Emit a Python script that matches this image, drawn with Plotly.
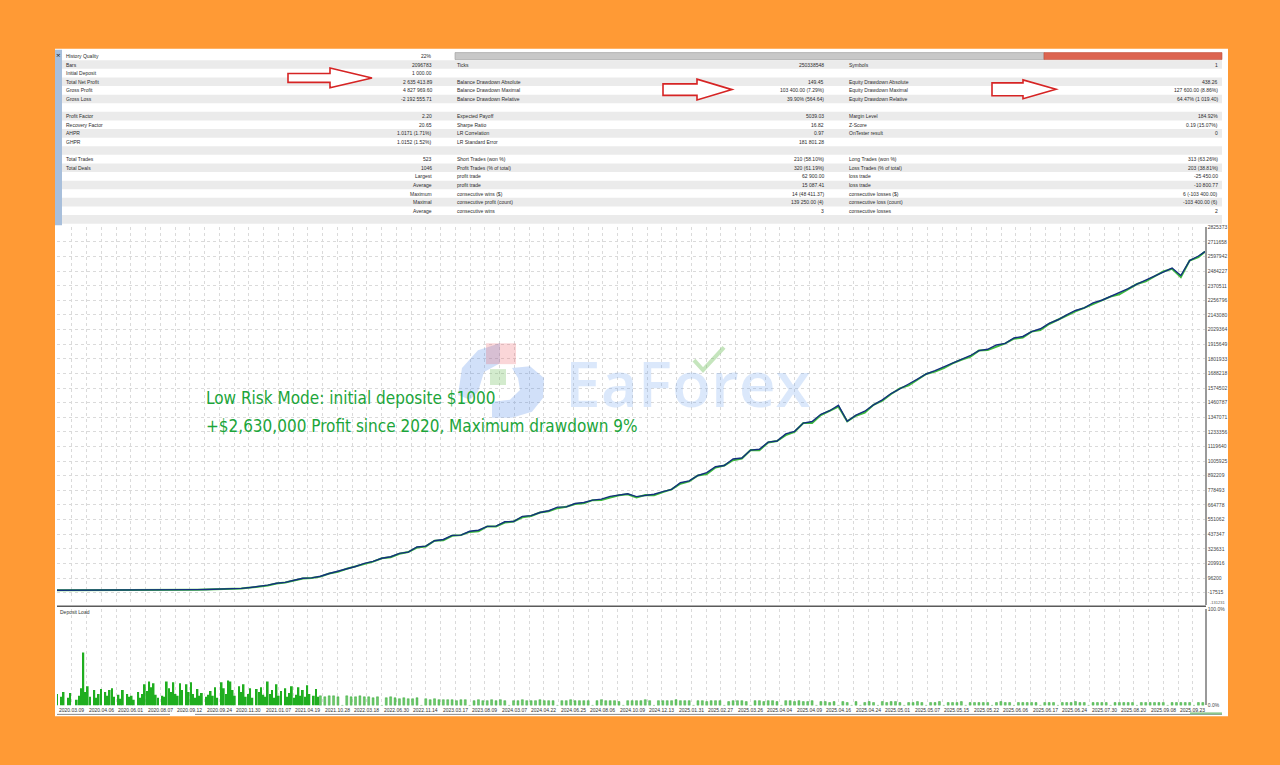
import plotly.graph_objects as go

W, H = 1280, 765
def px(x): return x / W
def py(y): return 1 - y / H

# ---------------- DATA ----------------
# balance (thousands $) sampled every 4 trades (0..520) plus last trade 523
balance_k = [
    1.0, 1.0, 1.1, 1.0, 1.2, 1.3, 1.3, 1.5, 1.7, 2.0,
    2.3, 2.6, 3.1, 3.5, 4.2, 5.0, 5.8, 7.2, 8.6, 10.4,
    12.8, 16.0, 22.5, 31.0, 40.5, 55.0, 62.0, 79.0, 94.0, 97.0,
    110.0, 131.0, 148.0, 170.0, 186.0, 210.0, 226.0, 250.0, 262.0, 288.0,
    298.0, 338.0, 344.0, 386.0, 396.0, 428.0, 430.0, 460.0, 468.0, 498.0,
    500.0, 534.0, 536.0, 576.0, 582.0, 606.0, 620.0, 648.0, 650.0, 676.0,
    684.0, 702.0, 710.0, 732.0, 740.0, 752.0, 730.0, 742.0, 748.0, 768.0,
    786.0, 838.0, 852.0, 894.0, 916.0, 962.0, 972.0, 1022.0, 1030.0, 1092.0,
    1098.0, 1154.0, 1162.0, 1218.0, 1238.0, 1302.0, 1314.0, 1370.0, 1398.0, 1440.0,
    1316.0, 1364.0, 1394.0, 1444.0, 1482.0, 1532.0, 1572.0, 1606.0, 1644.0, 1684.0,
    1710.0, 1740.0, 1766.0, 1800.0, 1826.0, 1866.0, 1876.0, 1910.0, 1922.0, 1964.0,
    1976.0, 2014.0, 2036.0, 2078.0, 2106.0, 2144.0, 2178.0, 2198.0, 2238.0, 2258.0,
    2286.0, 2314.0, 2348.0, 2384.0, 2416.0, 2448.0, 2482.0, 2508.0, 2450.0, 2566.0,
    2602.0, 2636.414,
]
# floating drawdown of equity below balance (thousands $), same sampling
equity_gap_k = [
    0, 0, 0, 0, 0, 0, 0, 0, 0, 0,
    0, 0, 0, 0, 0, 0, 0, 0, 0, 0,
    0, 1, 1, 0, 2, 1, 0, 2, 2, 0,
    3, 0, 4, 2, 0, 5, 2, 0, 4, 3,
    0, 5, 2, 0, 6, 3, 0, 5, 7, 0,
    3, 6, 0, 7, 3, 0, 5, 8, 0, 4,
    7, 0, 6, 9, 0, 4, 7, 0, 8, 3,
    0, 8, 4, 0, 10, 5, 0, 9, 4, 0,
    8, 3, 0, 10, 5, 0, 11, 6, 0, 9,
    0, 5, 10, 0, 6, 4, 0, 11, 5, 0,
    8, 10, 0, 5, 9, 0, 6, 11, 0, 5,
    9, 0, 11, 5, 0, 10, 6, 0, 12, 4,
    0, 10, 5, 0, 11, 7, 0, 6, 13, 0,
    9, 0,
]
# deposit load (%) per trade, trades 0..119
deposit_load_early = [
    12, 0, 9, 14, 0, 8, 13, 0, 0, 6,
    10, 18, 55, 14, 20, 9, 0, 16, 8, 12,
    17, 0, 14, 10, 16, 18, 9, 0, 11, 7,
    16, 0, 12, 9, 10, 6, 0, 14, 8, 12,
    22, 15, 25, 19, 23, 11, 8, 0, 10, 9,
    25, 18, 14, 24, 12, 10, 23, 16, 0, 22,
    14, 24, 12, 8, 17, 10, 13, 0, 9, 11,
    15, 10, 19, 8, 0, 24, 18, 12, 26, 25,
    16, 10, 0, 20, 14, 22, 9, 12, 18, 8,
    0, 17, 14, 19, 11, 9, 25, 12, 16, 8,
    22, 10, 15, 0, 18, 9, 13, 20, 8, 11,
    19, 10, 16, 9, 21, 12, 0, 10, 17, 9,
]
# deposit load (%) every 2 trades, trades 120..522
deposit_load_late = [
    10, 9, 10, 10, 9, 0, 10, 9, 9, 10,
    9, 9, 8, 9, 0, 8, 9, 8, 7, 8,
    7, 7, 8, 0, 7, 6, 7, 6, 6, 6,
    6, 5, 6, 6, 0, 5, 6, 5, 5, 6,
    5, 6, 5, 0, 5, 5, 6, 5, 5, 5,
    6, 5, 5, 5, 0, 5, 5, 6, 5, 5,
    5, 5, 0, 5, 6, 5, 5, 5, 4, 0,
    5, 5, 5, 5, 6, 5, 0, 5, 5, 5,
    5, 6, 5, 5, 5, 0, 5, 5, 4, 5,
    5, 5, 0, 4, 5, 5, 5, 4, 0, 5,
    5, 4, 5, 5, 4, 0, 5, 5, 4, 5,
    4, 4, 5, 0, 4, 4, 3, 4, 0, 4,
    3, 0, 4, 0, 3, 4, 3, 0, 4, 3,
    4, 4, 3, 0, 3, 3, 4, 3, 0, 3,
    3, 4, 0, 3, 3, 3, 4, 0, 3, 3,
    3, 3, 3, 0, 3, 4, 3, 3, 0, 3,
    3, 3, 3, 3, 0, 3, 3, 3, 0, 3,
    3, 3, 4, 3, 3, 0, 3, 3, 3, 3,
    0, 3, 3, 3, 3, 3, 0, 3, 3, 3,
    3, 3, 3, 0, 3, 3, 3, 3, 3, 0,
    3, 3,
]
date_labels = [
    "2020.03.09", "2020.04.06", "2020.06.01", "2020.08.07", "2020.09.12", "2020.09.24",
    "2020.11.30", "2021.01.07", "2021.04.19", "2021.10.28", "2022.03.18", "2022.06.30",
    "2022.11.14", "2023.03.17", "2023.08.09", "2024.03.07", "2024.04.22", "2024.06.25",
    "2024.08.06", "2024.10.09", "2024.12.13", "2025.01.31", "2025.02.27", "2025.03.26",
    "2025.04.04", "2025.04.09", "2025.04.16", "2025.04.24", "2025.05.01", "2025.05.07",
    "2025.05.15", "2025.05.22", "2025.06.06", "2025.06.17", "2025.06.24", "2025.07.30",
    "2025.08.20", "2025.09.08", "2025.09.23",
]
y_tick_labels = [
    "2825373", "2711658", "2597942", "2484227", "2370511", "2256796", "2143080",
    "2029364", "1915649", "1801933", "1688218", "1574502", "1460787", "1347071",
    "1233356", "1119640", "1005925", "892209", "778493", "664778", "551062",
    "437347", "323631", "209916", "96200", "-17515",
]
col1_labels = ["History Quality", "Bars", "Initial Deposit", "Total Net Profit", "Gross Profit",
               "Gross Loss", "", "Profit Factor", "Recovery Factor", "AHPR", "GHPR", "",
               "Total Trades", "Total Deals", "", "", "", "", "", ""]
col1_values = ["22%", "2096783", "1 000.00", "2 635 413.89", "4 827 969.60", "-2 192 555.71", "",
               "2.20", "20.65", "1.0171 (1.71%)", "1.0152 (1.52%)", "", "523", "1046",
               "Largest", "Average", "Maximum", "Maximal", "Average", ""]
col2_labels = ["", "Ticks", "", "Balance Drawdown Absolute", "Balance Drawdown Maximal",
               "Balance Drawdown Relative", "", "Expected Payoff", "Sharpe Ratio", "LR Correlation",
               "LR Standard Error", "", "Short Trades (won %)", "Profit Trades (% of total)",
               "profit trade", "profit trade", "consecutive wins ($)", "consecutive profit (count)",
               "consecutive wins", ""]
col2_values = ["", "250338548", "", "149.45", "103 400.00 (7.29%)", "39.90% (564.64)", "",
               "5039.03", "16.82", "0.97", "181 801.28", "", "210 (58.10%)", "320 (61.19%)",
               "62 900.00", "15 087.41", "14 (48 411.37)", "139 250.00 (4)", "3", ""]
col3_labels = ["", "Symbols", "", "Equity Drawdown Absolute", "Equity Drawdown Maximal",
               "Equity Drawdown Relative", "", "Margin Level", "Z-Score", "OnTester result",
               "", "", "Long Trades (won %)", "Loss Trades (% of total)", "loss trade", "loss trade",
               "consecutive losses ($)", "consecutive loss (count)", "consecutive losses", ""]
col3_values = ["", "1", "", "438.26", "127 600.00 (8.86%)", "64.47% (1 019.40)", "",
               "184.92%", "0.19 (15.07%)", "0", "", "", "313 (63.26%)", "203 (38.81%)",
               "-25 450.00", "-10 800.77", "6 (-103 400.00)", "-103 400.00 (6)", "2", ""]
headline = ["Low Risk Mode: initial deposite $1000",
            "+$2,630,000 Profit since 2020, Maximum drawdown 9%"]

# ---------------- DERIVED ----------------
N_TRADES = 523
trades = list(range(0, 521, 4)) + [N_TRADES]
balance = [v * 1000 for v in balance_k]
equity = [(b - g) * 1000 for b, g in zip(balance_k, equity_gap_k)]
early_x = list(range(len(deposit_load_early)))
late_x = [120 + 2 * i for i in range(len(deposit_load_late))]
y_tick_vals = [int(s) for s in y_tick_labels]

# plot geometry (pixels)
X0, X1 = 57, 1205
Y_TOP, Y_BOT = 226, 607
D_TOP, D_BOT = 611, 708
label_step_px = 29.5
label_step = label_step_px / (X1 - X0) * N_TRADES

GRID = dict(showgrid=True, gridcolor="#dadada", griddash="dot", gridwidth=1)

fig = go.Figure()
fig.add_trace(go.Scatter(x=trades, y=equity, mode="lines", line=dict(color="#3dbb3d", width=2),
                         xaxis="x", yaxis="y", hoverinfo="skip", showlegend=False))
fig.add_trace(go.Scatter(x=trades, y=balance, mode="lines", line=dict(color="#13307e", width=1.4),
                         xaxis="x", yaxis="y", showlegend=False))
fig.add_trace(go.Bar(x=early_x, y=deposit_load_early, width=0.8, marker=dict(color="#1fae1f", line=dict(width=0)),
                     xaxis="x2", yaxis="y2", showlegend=False))
fig.add_trace(go.Bar(x=late_x, y=deposit_load_late, width=0.9,
                     marker=dict(color="#6fcb6f", line=dict(color="#1f9a1f", width=0.4)),
                     xaxis="x2", yaxis="y2", showlegend=False))

# ---------------- SHAPES ----------------
shapes = []
shapes.append(dict(type="rect", xref="paper", yref="paper", x0=px(55), x1=px(1228), y0=py(719), y1=py(46),
                   fillcolor="white", line=dict(width=0), layer="below"))
shapes.append(dict(type="rect", xref="paper", yref="paper", x0=px(55), x1=px(62), y0=py(224), y1=py(47),
                   fillcolor="#a8bfdb", line=dict(width=0), layer="below"))
ROW0, ROWH = 49, 8.67
for i in range(20):
    if i % 2 == 1:
        shapes.append(dict(type="rect", xref="paper", yref="paper", x0=px(62), x1=px(1222),
                           y0=py(ROW0 + (i + 1) * ROWH), y1=py(ROW0 + i * ROWH),
                           fillcolor="#ebebeb", line=dict(width=0), layer="below"))
# progress bar
shapes.append(dict(type="rect", xref="paper", yref="paper", x0=px(455), x1=px(1044), y0=py(57), y1=py(50),
                   fillcolor="#c8c8c8", line=dict(color="#9a9a9a", width=0.6)))
shapes.append(dict(type="rect", xref="paper", yref="paper", x0=px(1044), x1=px(1222), y0=py(57), y1=py(50),
                   fillcolor="#dc6450", line=dict(color="#c0503c", width=0.6)))

def arrow(x0, xh, x1, yc, bh, hh):
    pts = [(x0, yc - bh), (xh, yc - bh), (xh, yc - hh), (x1, yc), (xh, yc + hh), (xh, yc + bh), (x0, yc + bh)]
    path = "M " + " L ".join(f"{px(a):.5f},{py(b):.5f}" for a, b in pts) + " Z"
    return dict(type="path", xref="paper", yref="paper", path=path, fillcolor="white",
                line=dict(color="#d62424", width=1.6))
shapes.append(arrow(288, 330, 372, 75.5, 4.5, 10))
shapes.append(arrow(663, 697, 732, 87.3, 5.8, 10.5))
shapes.append(arrow(992, 1023, 1056, 87.0, 6.5, 9.5))

# chart frame lines
shapes.append(dict(type="line", xref="paper", yref="paper", x0=px(X0), x1=px(1206), y0=py(608), y1=py(608),
                   line=dict(color="#5a5a5a", width=1.6)))
shapes.append(dict(type="line", xref="paper", yref="paper", x0=px(57), x1=px(170), y0=py(717), y1=py(717),
                   line=dict(color="#8a8a8a", width=1)))
shapes.append(dict(type="line", xref="paper", yref="paper", x0=px(195), x1=px(1222), y0=py(717), y1=py(717),
                   line=dict(color="#8a8a8a", width=1)))
shapes.append(dict(type="line", xref="paper", yref="paper", x0=px(1190), x1=px(1222), y0=py(716), y1=py(716),
                   line=dict(color="#8cc88c", width=2)))

# watermark logo (faint)
def ppath(pts, close=True):
    s = "M " + " L ".join(f"{px(a):.5f},{py(b):.5f}" for a, b in pts)
    return s + (" Z" if close else "")
shapes.append(dict(type="path", xref="paper", yref="paper",
                   path=ppath([(458, 395), (462, 368), (478, 350), (500, 343), (500, 363), (484, 372), (478, 392), (470, 400)]),
                   fillcolor="rgba(70,130,230,0.25)", line=dict(width=0)))
shapes.append(dict(type="rect", xref="paper", yref="paper", x0=px(486), x1=px(516), y0=py(364), y1=py(343),
                   fillcolor="rgba(235,90,100,0.25)", line=dict(width=0)))
shapes.append(dict(type="rect", xref="paper", yref="paper", x0=px(490), x1=px(506), y0=py(385), y1=py(369),
                   fillcolor="rgba(110,190,90,0.30)", line=dict(width=0)))
shapes.append(dict(type="path", xref="paper", yref="paper",
                   path=ppath([(512, 368), (530, 366), (544, 378), (543, 398), (532, 412), (512, 418), (492, 418),
                               (492, 402), (510, 400), (520, 390), (518, 378)]),
                   fillcolor="rgba(70,130,230,0.25)", line=dict(width=0)))
shapes.append(dict(type="path", xref="paper", yref="paper",
                   path=ppath([(694, 360), (703, 370), (724, 347)], close=False),
                   line=dict(color="rgba(110,190,90,0.40)", width=4)))

# ---------------- ANNOTATIONS ----------------
ann = []
TF = dict(family="Liberation Sans, Arial, sans-serif", size=5, color="#2b2b2b")
cols = [(64, 434, col1_labels, col1_values), (455, 826, col2_labels, col2_values),
        (847, 1220, col3_labels, col3_values)]
for lx, vx, labs, vals in cols:
    for i, (l, v) in enumerate(zip(labs, vals)):
        yc = py(ROW0 + (i + 0.5) * ROWH)
        if l:
            ann.append(dict(x=px(lx), y=yc, xref="paper", yref="paper", text=l, showarrow=False,
                            xanchor="left", yanchor="middle", font=TF))
        if v:
            ann.append(dict(x=px(vx), y=yc, xref="paper", yref="paper", text=v, showarrow=False,
                            xanchor="right", yanchor="middle", font=TF))
ann.append(dict(x=px(58.5), y=py(51.5), xref="paper", yref="paper", text="×", showarrow=False,
                xanchor="center", yanchor="middle", font=dict(size=8, color="#222")))

for i, lab in enumerate(date_labels):
    ann.append(dict(x=i * label_step, y=py(712.5), xref="x2", yref="paper", text=lab, showarrow=False,
                    xanchor="left", yanchor="middle", font=dict(family="Liberation Sans, Arial", size=5, color="#333")))
ann.append(dict(x=px(58), y=py(614), xref="paper", yref="paper", text="Deposit Load", showarrow=False,
                xanchor="left", yanchor="middle", font=dict(family="Liberation Sans, Arial", size=5, color="#333")))
ann.append(dict(x=px(1208), y=py(604.5), xref="paper", yref="paper", text="-131231", showarrow=False,
                xanchor="left", yanchor="middle", font=dict(family="Liberation Sans, Arial", size=4, color="#555")))

# watermark text
ann.append(dict(x=px(688), y=py(383), xref="paper", yref="paper", text="EaForex", showarrow=False,
                xanchor="center", yanchor="middle",
                font=dict(family="Open Sans, Lato, sans-serif", size=64, color="rgba(90,150,235,0.22)", weight=600)))
# headline
GF = dict(family="Liberation Sans Narrow, DejaVu Sans Condensed, Arial Narrow, sans-serif", size=17,
          color="#1ca53a", weight=500)
ann.append(dict(x=px(204), y=py(398), xref="paper", yref="paper", text=headline[0], showarrow=False,
                xanchor="left", yanchor="middle", font=GF))
ann.append(dict(x=px(204), y=py(426), xref="paper", yref="paper", text=headline[1], showarrow=False,
                xanchor="left", yanchor="middle", font=GF))

fig.update_layout(
    width=W, height=H, autosize=False,
    margin=dict(l=0, r=0, t=0, b=0),
    paper_bgcolor="#FF9A35", plot_bgcolor="rgba(0,0,0,0)",
    barmode="overlay", showlegend=False,
    shapes=shapes, annotations=ann,
    xaxis=dict(domain=[px(X0), px(X1)], range=[0, N_TRADES], showticklabels=False, ticks="",
               tick0=0, dtick=label_step / 2, zeroline=False, showline=False, anchor="y", **GRID),
    yaxis=dict(domain=[py(Y_BOT), py(Y_TOP)], range=[-115600, 2826000], side="right", anchor="x",
               tickmode="array", tickvals=y_tick_vals, ticktext=y_tick_labels, ticks="",
               tickfont=dict(family="Liberation Sans, Arial", size=5, color="#444"),
               showline=True, linecolor="#9a9a9a", linewidth=1.5, zeroline=False, **GRID),
    xaxis2=dict(domain=[px(X0), px(X1)], range=[0, N_TRADES], showticklabels=False, ticks="",
                tick0=0, dtick=label_step / 2, zeroline=False, showline=False, anchor="y2", **GRID),
    yaxis2=dict(domain=[py(D_BOT), py(D_TOP)], range=[0, 100], side="right", anchor="x2",
                tickmode="array", tickvals=[0, 100], ticktext=["0.0%", "100.0%"], ticks="",
                tickfont=dict(family="Liberation Sans, Arial", size=5, color="#444"),
                showline=True, linecolor="#9a9a9a", linewidth=1.5, showgrid=False, zeroline=False),
)

fig.write_html("out.html", config={"displayModeBar": False},
               post_script="document.body.style.margin='0';document.body.style.overflow='hidden';")
